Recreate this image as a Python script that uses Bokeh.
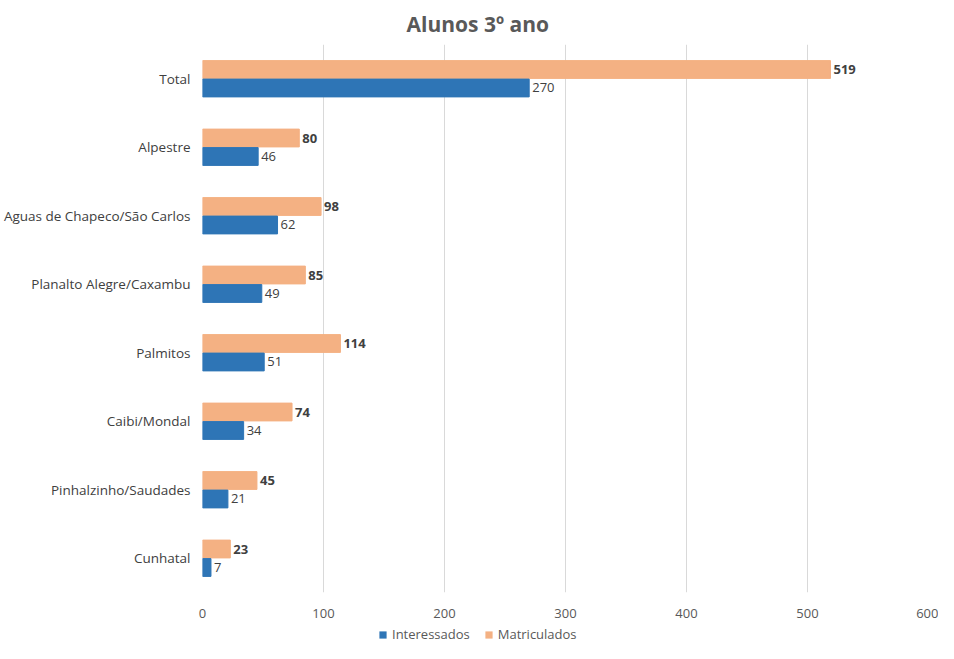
from bokeh.plotting import figure
from bokeh.layouts import column
from bokeh.models import FactorRange, ColumnDataSource, Legend, LegendItem, FixedTicker
from bokeh.transform import dodge
from bokeh.core.properties import value
from bokeh.embed import file_html
from bokeh.resources import INLINE

categories = ["Cunhatal", "Pinhalzinho/Saudades", "Caibi/Mondal", "Palmitos",
              "Planalto Alegre/Caxambu", "Aguas de Chapeco/São Carlos", "Alpestre", "Total"]
interessados = [7, 21, 34, 51, 49, 62, 46, 270]
matriculados = [23, 45, 74, 114, 85, 98, 80, 519]
series_names = ["Interessados", "Matriculados"]
x_ticks = [0, 100, 200, 300, 400, 500, 600]

FONT = "Open Sans"
BLUE = "#2E75B6"
ORANGE = "#F4B183"

src = ColumnDataSource(dict(
    cat=categories,
    inter=interessados,
    matr=matriculados,
    inter_lbl=[str(v) for v in interessados],
    matr_lbl=[str(v) for v in matriculados],
))

p = figure(width=938, height=620, y_range=FactorRange(factors=categories),
           x_range=(0, 600), output_backend="svg", toolbar_location=None,
           title="Alunos 3º ano")
p.min_border_left = 195
p.min_border_right = 10
p.min_border_top = 0
p.min_border_bottom = 0
p.outline_line_color = None
p.background_fill_color = "white"

p.title.align = "left"
p.title.offset = 204
p.title.standoff = 14
p.title.text_font = FONT
p.title.text_font_size = "21px"
p.title.text_font_style = "bold"
p.title.text_color = "#595959"

p.hbar(y=dodge("cat", 0.135, range=p.y_range), right="matr", height=0.26,
       left=0, source=src, fill_color=ORANGE, line_color=ORANGE)
p.hbar(y=dodge("cat", -0.135, range=p.y_range), right="inter", height=0.26,
       left=0, source=src, fill_color=BLUE, line_color=BLUE)

p.text(x="matr", y=dodge("cat", 0.135, range=p.y_range), text="matr_lbl", source=src,
       x_offset=3, text_baseline="middle", text_align="left",
       text_font=value(FONT), text_font_size="13px", text_font_style="bold",
       text_color="#404040")
p.text(x="inter", y=dodge("cat", -0.135, range=p.y_range), text="inter_lbl", source=src,
       x_offset=3, text_baseline="middle", text_align="left",
       text_font=value(FONT), text_font_size="13px",
       text_color="#404040")

p.xaxis.ticker = FixedTicker(ticks=x_ticks)
p.xaxis.axis_line_color = None
p.xaxis.major_tick_line_color = None
p.xaxis.minor_tick_line_color = None
p.xaxis.major_label_text_font = FONT
p.xaxis.major_label_text_font_size = "13px"
p.xaxis.major_label_text_color = "#595959"
p.xaxis.major_label_standoff = 10

p.yaxis.axis_line_color = None
p.yaxis.major_tick_line_color = None
p.yaxis.minor_tick_line_color = None
p.yaxis.major_label_text_font = FONT
p.yaxis.major_label_text_font_size = "13.5px"
p.yaxis.major_label_text_color = "#404040"
p.yaxis.major_label_standoff = 6

p.xgrid.grid_line_color = "#D9D9D9"
p.ygrid.grid_line_color = None
p.y_range.range_padding = 0
p.y_range.group_padding = 0

# legend strip below the chart (its bars lie outside its visible x range)
lg = figure(width=938, height=23, y_range=FactorRange(factors=categories),
            x_range=(-2, -1), output_backend="svg", toolbar_location=None,
            x_axis_location=None, y_axis_location=None)
lg.min_border_left = 195
lg.min_border_right = 10
lg.min_border_top = 0
lg.min_border_bottom = 0
lg.outline_line_color = None
lg.xgrid.visible = False
lg.ygrid.visible = False
li = lg.hbar(y="cat", right="inter", left=0, height=0, source=src,
             fill_color=BLUE, line_color=None)
lm = lg.hbar(y="cat", right="matr", left=0, height=0, source=src,
             fill_color=ORANGE, line_color=None)
legend = Legend(items=[LegendItem(label=series_names[0], renderers=[li]),
                       LegendItem(label=series_names[1], renderers=[lm])],
                orientation="horizontal", location=(176, 0),
                label_text_font=FONT, label_text_font_size="13px",
                label_text_color="#595959", glyph_width=9, glyph_height=9,
                spacing=14, label_standoff=5, border_line_color=None,
                background_fill_alpha=0, margin=0, padding=2)
lg.add_layout(legend)

layout = column(p, lg, spacing=0)
open("out.html", "w").write(file_html(layout, INLINE))
